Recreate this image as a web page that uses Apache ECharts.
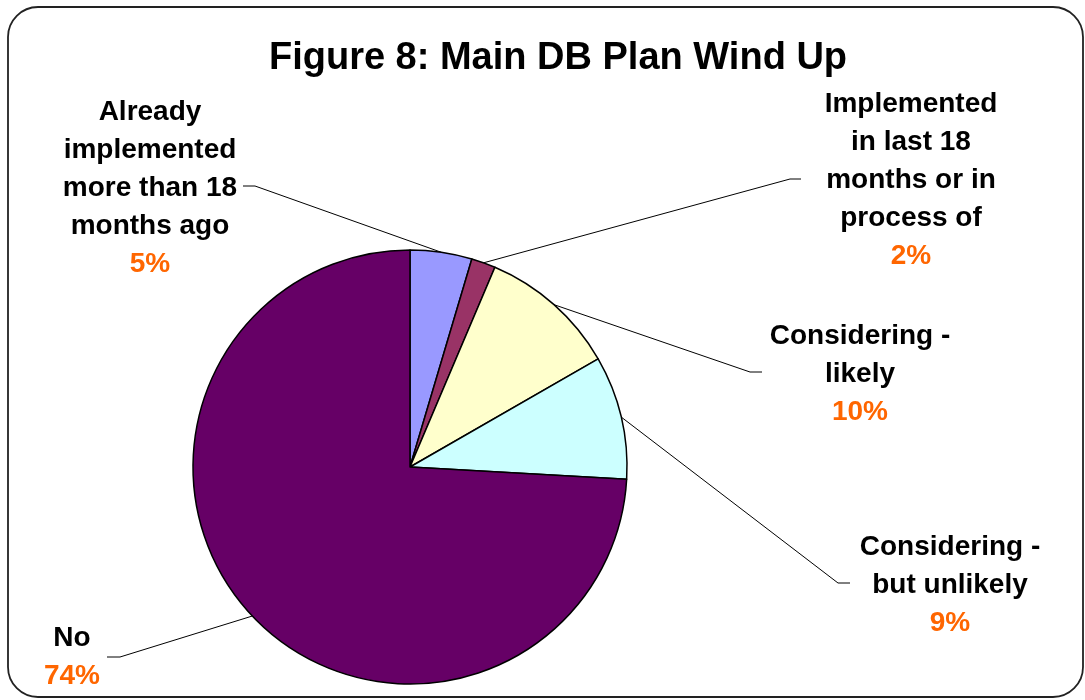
<!DOCTYPE html>
<html>
<head>
<meta charset="utf-8">
<script src="https://cdn.jsdelivr.net/npm/echarts@6/dist/echarts.min.js"></script>
<style>
html,body{margin:0;padding:0;background:#fff;}
#chart{width:1085px;height:700px;}
</style>
</head>
<body>
<div id="chart"></div>
<script>
const titleText = 'Figure 8: Main DB Plan Wind Up';
const categories = [
  'Already\nimplemented\nmore than 18\nmonths ago',
  'Implemented\nin last 18\nmonths or in\nprocess of',
  'Considering -\nlikely',
  'Considering -\nbut unlikely',
  'No'
];
const values = [4.6, 1.8, 10.3, 9.2, 74.1];
const colors = ['#9999FF', '#993366', '#FFFFCC', '#CCFFFF', '#660066'];

// label placement (centre of text block) and leader elbow/end points
const labelPos = [
  {x: 150, y: 188, elbow: [255, 186], end: [243, 186]},
  {x: 911, y: 180, elbow: [790, 179], end: [801, 179]},
  {x: 860, y: 374, elbow: [750, 372], end: [762, 372]},
  {x: 950, y: 585, elbow: [838, 583], end: [850, 583]},
  {x: 72,  y: 657, elbow: [120, 657], end: [107, 657]}
];

const chart = echarts.init(document.getElementById('chart'));
chart.setOption({
  animation: false,
  title: {
    text: titleText,
    left: 553,
    top: 35,
    textAlign: 'center',
    textStyle: {fontFamily: 'Liberation Sans, Arial, sans-serif', fontWeight: 'bold', fontSize: 38, color: '#000'}
  },
  graphic: [{
    type: 'rect',
    shape: {x: 8, y: 7, width: 1075, height: 690, r: 30},
    style: {fill: 'none', stroke: '#222', lineWidth: 1.8},
    silent: true
  }],
  series: [{
    type: 'pie',
    center: [410, 467],
    radius: 217,
    startAngle: 90,
    clockwise: true,
    avoidLabelOverlap: false,
    data: categories.map((c, i) => ({name: c, value: values[i], itemStyle: {color: colors[i]}})),
    itemStyle: {borderColor: '#000', borderWidth: 1.5},
    emphasis: {disabled: true},
    label: {
      show: true,
      formatter: p => '{n|' + p.name + '}\n{p|' + Math.round(p.percent) + '%}',
      rich: {
        n: {fontFamily: 'Liberation Sans, Arial, sans-serif', fontWeight: 'bold', fontSize: 28, color: '#000', lineHeight: 38, align: 'center'},
        p: {fontFamily: 'Liberation Sans, Arial, sans-serif', fontWeight: 'bold', fontSize: 28, color: '#FF6600', lineHeight: 38, align: 'center'}
      }
    },
    labelLine: {show: true, lineStyle: {color: '#000', width: 1}},
    labelLayout: function (params) {
      const lp = labelPos[params.dataIndex];
      const p0 = params.labelLinePoints ? params.labelLinePoints[0] : lp.elbow;
      return {
        x: lp.x, y: lp.y, align: 'center', verticalAlign: 'middle',
        labelLinePoints: [p0, lp.elbow, lp.end]
      };
    }
  }]
});
</script>
</body>
</html>
